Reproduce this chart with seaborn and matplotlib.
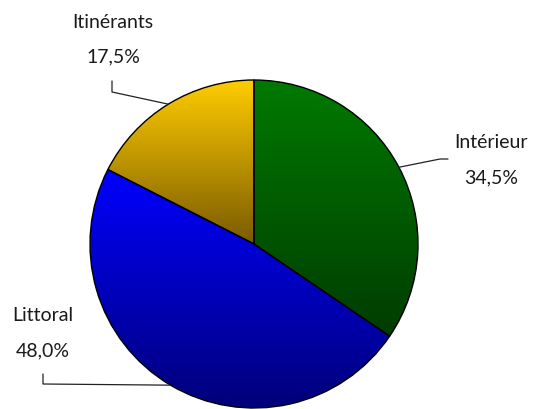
import numpy as np
import matplotlib
matplotlib.use("Agg")
import matplotlib.pyplot as plt
import seaborn as sns
from matplotlib.colors import LinearSegmentedColormap

labels = ["Intérieur", "Littoral", "Itinérants"]
shares = [34.5, 48.0, 17.5]
top_colors = ["#007a00", "#0000ff", "#ffcc00"]
bottom_colors = ["#003c00", "#00007a", "#7a5a00"]

sns.set_theme(style="white")
plt.rcParams["font.family"] = ["Lato", "DejaVu Sans"]

W, H = 536, 410
fig = plt.figure(figsize=(W / 100, H / 100), dpi=100)
ax = fig.add_axes([0, 0, 1, 1])

cx, cy, r = 254, H - 245, 164
wedges, _ = ax.pie(shares, startangle=90, counterclock=False, center=(cx, cy), radius=r,
                   wedgeprops=dict(edgecolor="black", linewidth=1.0), frame=True)
ax.set_xlim(0, W)
ax.set_ylim(0, H)
ax.set_aspect("equal")
ax.axis("off")

# vertical gradient inside each slice
for w, c0, c1 in zip(wedges, top_colors, bottom_colors):
    ext = w.get_path().get_extents()
    cmap = LinearSegmentedColormap.from_list("g", [c1, c0])
    grad = np.linspace(0, 1, 256).reshape(-1, 1)
    w.set_facecolor("none")
    im = ax.imshow(grad, cmap=cmap, origin="lower", aspect="auto", interpolation="bilinear",
                   extent=(ext.x0, ext.x1, ext.y0, ext.y1), zorder=1)
    im.set_clip_path(w)
    w.set_zorder(2)

# label text positions and leader elbows (pixel coords, y from top)
text_pos = [(491, 143), (43, 316), (113, 22)]
elbows = [[(448, 160), (440, 160)], [(43, 375), (43, 385)], [(112, 82), (112, 93)]]
tc = "#1a1a1a"
for w, lab, s, (tx, ty), elb in zip(wedges, labels, shares, text_pos, elbows):
    mid = np.deg2rad((w.theta1 + w.theta2) / 2)
    ex, ey = cx + r * np.cos(mid), cy + r * np.sin(mid)
    xs = [p[0] for p in elb] + [ex]
    ys = [H - p[1] for p in elb] + [ey]
    ax.plot(xs, ys, color="#222222", lw=0.9, zorder=3)
    ax.text(tx, H - ty, lab, ha="center", va="center", fontsize=14, color=tc)
    ax.text(tx, H - ty - 35, f"{s:.1f}%".replace(".", ","), ha="center", va="center",
            fontsize=14, color=tc)

fig.savefig("out.png", dpi=100)
